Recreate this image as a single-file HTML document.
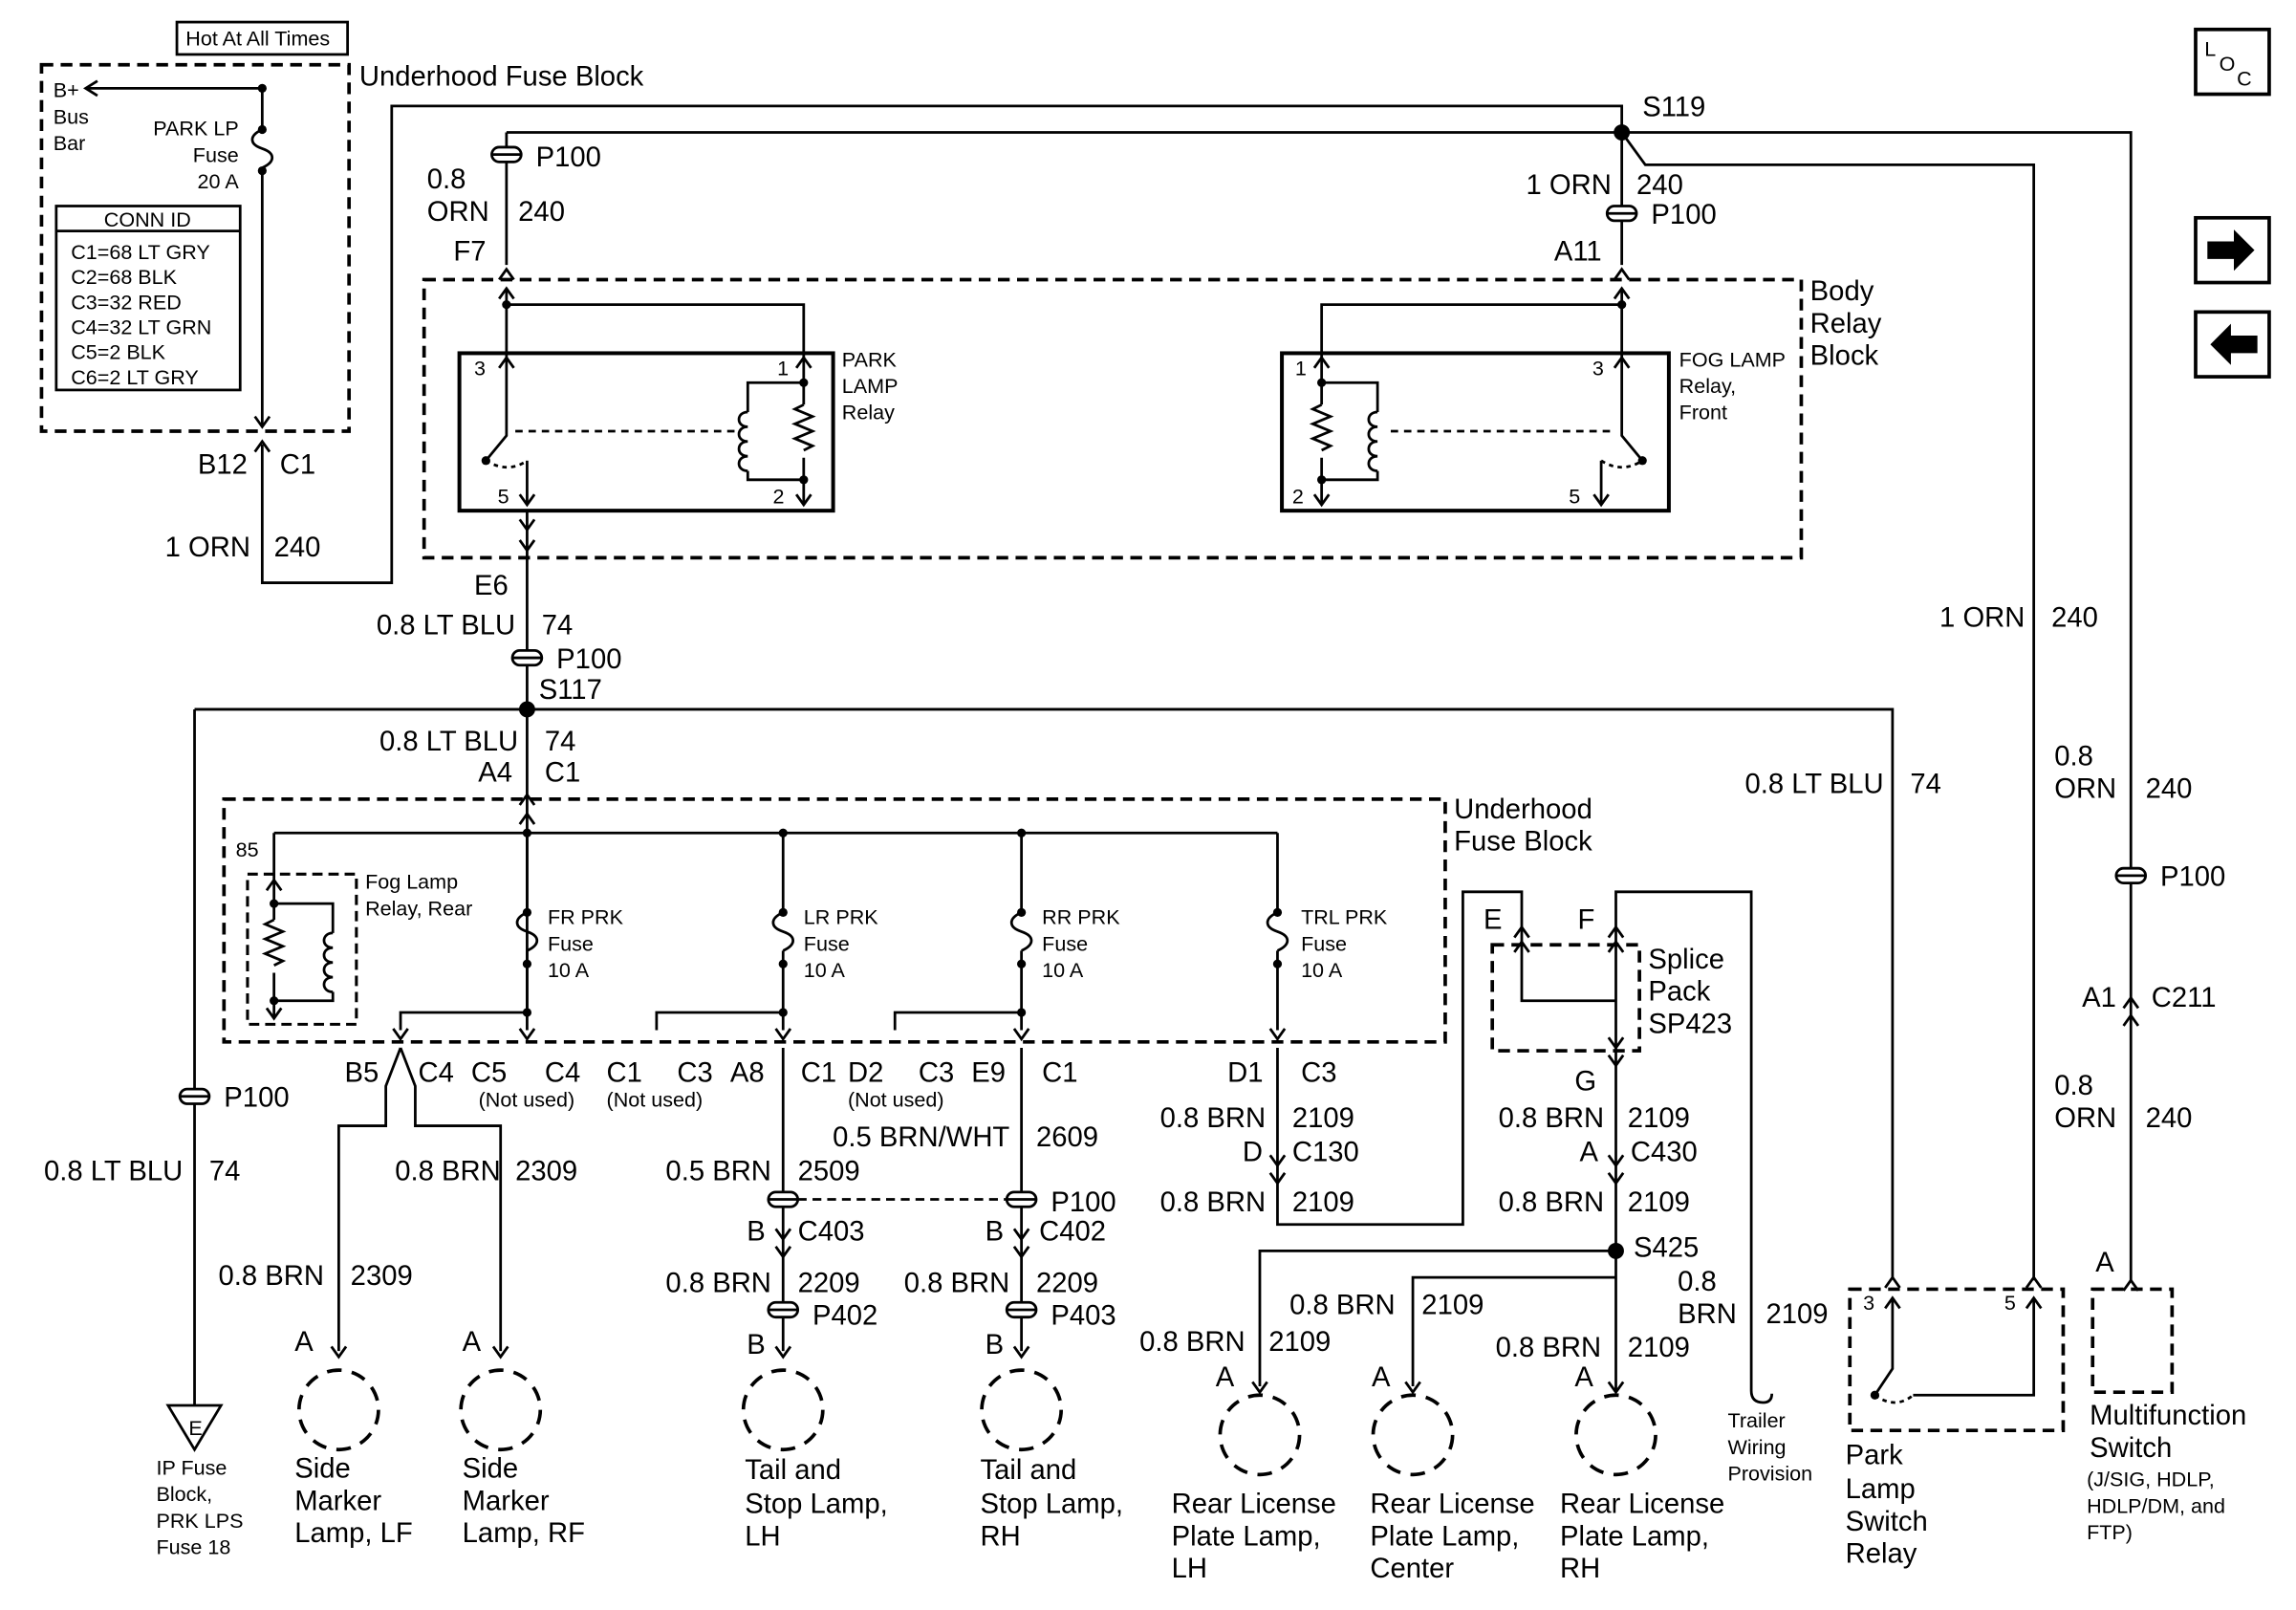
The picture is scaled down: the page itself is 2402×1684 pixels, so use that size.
<!DOCTYPE html>
<html><head><meta charset="utf-8"><style>
html,body{margin:0;padding:0;background:#fff}
svg{display:block}
text{font-family:"Liberation Sans",sans-serif;fill:#000}
.m{font-size:19px}
.s{font-size:14px}
.r{text-anchor:end}
</style></head><body>
<svg width="2402" height="1684" viewBox="0 0 1560 1094" xmlns="http://www.w3.org/2000/svg">
<defs>
<path id="cd" d="M-5,-7 L0,0 L5,-7" fill="none" stroke="#000" stroke-width="1.8"/>
<path id="cu" d="M-5,7 L0,0 L5,7" fill="none" stroke="#000" stroke-width="1.8"/>
<g id="cap"><rect x="-10" y="-5" width="20" height="10" rx="5" fill="#fff" stroke="#000" stroke-width="1.8"/><line x1="-10" y1="0" x2="10" y2="0" stroke="#000" stroke-width="1.8"/></g>
<path id="fuse" d="M0,0 C-9,4 -9,10 0,13 C9,16 9,22 0,26" fill="none" stroke="#000" stroke-width="1.8"/>
<path id="coil" d="M0,0 c-8,0 -8,10 0,10 c-8,0 -8,10 0,10 c-8,0 -8,10 0,10 c-8,0 -8,10 0,10" fill="none" stroke="#000" stroke-width="1.8"/>
<path id="res" d="M0,0 l-6,3 l12,5 l-12,5 l12,5 l-12,5 l12,5 l-6,3" fill="none" stroke="#000" stroke-width="1.8"/>
</defs>
<g fill="none" stroke="#000" stroke-width="1.8">
<rect x="120" y="15" width="116" height="22"/>
<rect x="28" y="44" width="209" height="249" stroke-dasharray="8,5" stroke-width="2.4"/>
<path d="M58,60 H178 V88"/><path d="M66,55 L58,60 L66,65"/>
<use href="#fuse" x="178" y="88"/>
<path d="M178,115 V290"/><use href="#cd" x="178" y="290"/>
<rect x="38" y="140" width="125" height="125"/><line x1="38" y1="157" x2="163" y2="157"/>
<use href="#cu" x="178" y="300"/>
<path d="M178,302 V396 H266 V72 H1102 V90"/>
<path d="M344,90 H1448 V870"/>
<path d="M1102,90 L1118,112 H1382 V870"/>
<path d="M344,90 V180"/>
<use href="#cu" x="344" y="183"/><use href="#cu" x="344" y="196"/>
<path d="M1102,90 V180"/>
<use href="#cu" x="1102" y="183"/><use href="#cu" x="1102" y="196"/>
<rect x="288" y="190" width="936" height="189" stroke-dasharray="8,5" stroke-width="2.4"/>
<rect x="312" y="240" width="254" height="107" stroke-width="2.6"/>
<rect x="871" y="240" width="263" height="107" stroke-width="2.6"/>
<path d="M344,196 V243 M344,207 H546 V243"/>
<use href="#cu" x="344" y="243"/><use href="#cu" x="546" y="243"/>
<path d="M344,243 V296 L330,313"/>
<path d="M358,313 V343"/><use href="#cd" x="358" y="343"/>
<path d="M330,313 Q345,322 358,313" stroke-dasharray="3,3"/>
<path d="M350,293 H500" stroke-dasharray="5,4"/>
<path d="M546,243 V260 H508 V280 M508,320 V326 H546 V343 M546,260 V275 M546,311 V326"/>
<use href="#coil" x="508" y="280"/><use href="#res" x="546" y="275"/>
<use href="#cd" x="546" y="343"/>
<path d="M358,347 V700"/>
<use href="#cd" x="358" y="360"/><use href="#cd" x="358" y="374"/>
<path d="M1102,196 V243 M1102,207 H898 V243"/>
<use href="#cu" x="1102" y="243"/><use href="#cu" x="898" y="243"/>
<path d="M1102,243 V296 L1116,313"/>
<path d="M1088,313 V343"/><use href="#cd" x="1088" y="343"/>
<path d="M1088,313 Q1102,322 1116,313" stroke-dasharray="3,3"/>
<path d="M945,293 H1095" stroke-dasharray="5,4"/>
<path d="M898,243 V260 H936 V280 M936,320 V326 H898 V343 M898,260 V275 M898,311 V326"/>
<use href="#coil" x="936" y="280"/><use href="#res" x="898" y="275"/>
<use href="#cd" x="898" y="343"/>
<use href="#cap" x="344" y="105"/><use href="#cap" x="1102" y="145"/>
<use href="#cap" x="358" y="447"/>
<path d="M132,482 H1286 V868 M132,482 V955"/>
<use href="#cap" x="132" y="745"/>
<path d="M114,955 H150 L132,985 Z"/>
<use href="#cu" x="358" y="540"/><use href="#cu" x="358" y="553"/>
<rect x="152" y="543" width="830" height="165" stroke-dasharray="8,5" stroke-width="2.4"/>
<path d="M186,566 H868"/>
<path d="M186,566 V598"/><use href="#cu" x="186" y="598"/>
<rect x="168" y="594" width="74" height="102" stroke-dasharray="7,4" stroke-width="2"/>
<path d="M186,598 V614 H226 V634 M226,674 V680 H186 V692 M186,614 V625 M186,661 V680"/>
<use href="#coil" x="226" y="634"/><use href="#res" x="186" y="625"/>
<use href="#cd" x="186" y="692"/>
<path d="M358,566 V620 M358,646 V688 H272 V700"/><use href="#fuse" x="358" y="620"/>
<path d="M532,566 V620 M532,646 V700 M532,688 H446 V700"/><use href="#fuse" x="532" y="620"/>
<path d="M694,566 V620 M694,646 V700 M694,688 H608 V700"/><use href="#fuse" x="694" y="620"/>
<path d="M868,566 V620 M868,646 V700"/><use href="#fuse" x="868" y="620"/>
<use href="#cd" x="272" y="706"/><use href="#cd" x="532" y="706"/><use href="#cd" x="694" y="706"/><use href="#cd" x="868" y="706"/>
<use href="#cd" x="358" y="706"/>
<path d="M272,712 L262,738 V765 H230 V918"/><path d="M272,712 L282,738 V765 H340 V918"/>
<use href="#cd" x="230" y="922"/><use href="#cd" x="340" y="922"/>
<circle cx="230" cy="958" r="27" stroke-dasharray="10,7" stroke-width="2.4"/>
<circle cx="340" cy="958" r="27" stroke-dasharray="10,7" stroke-width="2.4"/>
<path d="M532,712 V918 M694,712 V918"/>
<path d="M532,815 H694" stroke-dasharray="6,4"/>
<use href="#cap" x="532" y="815"/><use href="#cap" x="694" y="815"/>
<use href="#cd" x="532" y="842"/><use href="#cd" x="532" y="854"/>
<use href="#cd" x="694" y="842"/><use href="#cd" x="694" y="854"/>
<use href="#cap" x="532" y="890"/><use href="#cap" x="694" y="890"/>
<use href="#cd" x="532" y="922"/><use href="#cd" x="694" y="922"/>
<circle cx="532" cy="958" r="27" stroke-dasharray="10,7" stroke-width="2.4"/>
<circle cx="694" cy="958" r="27" stroke-dasharray="10,7" stroke-width="2.4"/>
<path d="M868,712 V832 H994 V606 H1034 V640"/>
<use href="#cd" x="868" y="792"/><use href="#cd" x="868" y="804"/>
<path d="M1098,640 V606 H1190 V945 q0,8 8,8 q6,0 6,-6"/>
<use href="#cu" x="1034" y="640"/><use href="#cu" x="1098" y="640"/>
<use href="#cu" x="1034" y="630"/><use href="#cu" x="1098" y="630"/>
<rect x="1014" y="642" width="100" height="72" stroke-dasharray="8,5" stroke-width="2.4"/>
<path d="M1034,640 V680 H1098 M1098,640 V712"/><use href="#cd" x="1098" y="712"/>
<path d="M1098,712 V945"/><use href="#cd" x="1098" y="724"/>
<use href="#cd" x="1098" y="792"/><use href="#cd" x="1098" y="804"/>
<path d="M1098,850 H856 V942 M1098,868 H960 V942"/>
<use href="#cd" x="856" y="946"/><use href="#cd" x="960" y="946"/><use href="#cd" x="1098" y="946"/>
<circle cx="856" cy="975" r="27" stroke-dasharray="10,7" stroke-width="2.4"/>
<circle cx="960" cy="975" r="27" stroke-dasharray="10,7" stroke-width="2.4"/>
<circle cx="1098" cy="975" r="27" stroke-dasharray="10,7" stroke-width="2.4"/>
<use href="#cu" x="1286" y="868"/><use href="#cu" x="1382" y="868"/>
<rect x="1257" y="876" width="145" height="96" stroke-dasharray="8,5" stroke-width="2.4"/>
<use href="#cu" x="1286" y="882"/><use href="#cu" x="1382" y="882"/>
<path d="M1286,882 V930 L1274,948 M1382,882 V948 H1300"/>
<path d="M1274,948 Q1288,958 1300,948" stroke-dasharray="3,3"/>
<use href="#cap" x="1448" y="595"/>
<use href="#cu" x="1448" y="678"/><use href="#cu" x="1448" y="690"/>
<use href="#cu" x="1448" y="870"/>
<rect x="1422" y="876" width="54" height="70" stroke-dasharray="8,5" stroke-width="2.4"/>
<rect x="1492" y="20" width="50" height="44" stroke-width="2.4"/>
<rect x="1492" y="148" width="50" height="44" stroke-width="2.4"/>
<rect x="1492" y="212" width="50" height="44" stroke-width="2.4"/>
</g>
<g fill="#000">
<circle cx="178" cy="60" r="3"/><circle cx="178" cy="88" r="3"/><circle cx="178" cy="116" r="3"/>
<circle cx="1102" cy="90" r="5.5"/><circle cx="358" cy="482" r="5.5"/><circle cx="1098" cy="850" r="5.5"/>
<circle cx="546" cy="260" r="3"/><circle cx="546" cy="326" r="3"/><circle cx="898" cy="260" r="3"/><circle cx="898" cy="326" r="3"/>
<circle cx="330" cy="313" r="3"/><circle cx="1116" cy="313" r="3"/><circle cx="1274" cy="948" r="3"/>
<circle cx="186" cy="614" r="3"/><circle cx="186" cy="680" r="3"/>
<circle cx="358" cy="566" r="3"/><circle cx="532" cy="566" r="3"/><circle cx="694" cy="566" r="3"/>
<circle cx="358" cy="620" r="3"/><circle cx="358" cy="655" r="3"/><circle cx="532" cy="620" r="3"/><circle cx="532" cy="655" r="3"/>
<circle cx="694" cy="620" r="3"/><circle cx="694" cy="655" r="3"/><circle cx="868" cy="620" r="3"/><circle cx="868" cy="655" r="3"/>
<circle cx="358" cy="688" r="3"/><circle cx="532" cy="688" r="3"/><circle cx="694" cy="688" r="3"/>
<circle cx="344" cy="207" r="3"/><circle cx="1102" cy="207" r="3"/>
<path d="M1500,164 h18 v-8 l14,14 l-14,14 v-8 h-18z"/>
<path d="M1534,228 h-18 v-8 l-14,14 l14,14 v-8 h18z"/>
</g>
<text x="126" y="31" class="s">Hot At All Times</text>
<text x="244" y="58" class="m">Underhood Fuse Block</text>
<text x="36" y="66" class="s">B+</text><text x="36" y="84" class="s">Bus</text><text x="36" y="102" class="s">Bar</text>
<text x="162" y="92" class="s r">PARK LP</text><text x="162" y="110" class="s r">Fuse</text><text x="162" y="128" class="s r">20 A</text>
<text x="100" y="154" class="s" text-anchor="middle">CONN ID</text>
<text x="48" y="176" class="s">C1=68 LT GRY</text><text x="48" y="193" class="s">C2=68 BLK</text><text x="48" y="210" class="s">C3=32 RED</text>
<text x="48" y="227" class="s">C4=32 LT GRN</text><text x="48" y="244" class="s">C5=2 BLK</text><text x="48" y="261" class="s">C6=2 LT GRY</text>
<text x="168" y="322" class="m r">B12</text><text x="190" y="322" class="m">C1</text>
<text x="170" y="378" class="m r">1 ORN</text><text x="186" y="378" class="m">240</text>
<text x="364" y="113" class="m">P100</text>
<text x="290" y="128" class="m">0.8</text><text x="290" y="150" class="m">ORN</text><text x="352" y="150" class="m">240</text>
<text x="308" y="177" class="m">F7</text>
<text x="1095" y="132" class="m r">1 ORN</text><text x="1112" y="132" class="m">240</text>
<text x="1122" y="152" class="m">P100</text><text x="1056" y="177" class="m">A11</text>
<text x="1116" y="79" class="m">S119</text>
<text x="1230" y="204" class="m">Body</text><text x="1230" y="226" class="m">Relay</text><text x="1230" y="248" class="m">Block</text>
<text x="572" y="249" class="s">PARK</text><text x="572" y="267" class="s">LAMP</text><text x="572" y="285" class="s">Relay</text>
<text x="1141" y="249" class="s">FOG LAMP</text><text x="1141" y="267" class="s">Relay,</text><text x="1141" y="285" class="s">Front</text>
<text x="322" y="255" class="s">3</text><text x="528" y="255" class="s">1</text><text x="338" y="342" class="s">5</text><text x="525" y="342" class="s">2</text>
<text x="880" y="255" class="s">1</text><text x="1082" y="255" class="s">3</text><text x="878" y="342" class="s">2</text><text x="1066" y="342" class="s">5</text>
<text x="322" y="404" class="m">E6</text>
<text x="350" y="431" class="m r">0.8 LT BLU</text><text x="368" y="431" class="m">74</text>
<text x="378" y="454" class="m">P100</text><text x="366" y="475" class="m">S117</text>
<text x="352" y="510" class="m r">0.8 LT BLU</text><text x="370" y="510" class="m">74</text>
<text x="348" y="531" class="m r">A4</text><text x="370" y="531" class="m">C1</text>
<text x="988" y="556" class="m">Underhood</text><text x="988" y="578" class="m">Fuse Block</text>
<text x="160" y="582" class="s">85</text>
<text x="248" y="604" class="s">Fog Lamp</text><text x="248" y="622" class="s">Relay, Rear</text>
<text x="372" y="628" class="s">FR PRK</text><text x="372" y="646" class="s">Fuse</text><text x="372" y="664" class="s">10 A</text>
<text x="546" y="628" class="s">LR PRK</text><text x="546" y="646" class="s">Fuse</text><text x="546" y="664" class="s">10 A</text>
<text x="708" y="628" class="s">RR PRK</text><text x="708" y="646" class="s">Fuse</text><text x="708" y="664" class="s">10 A</text>
<text x="884" y="628" class="s">TRL PRK</text><text x="884" y="646" class="s">Fuse</text><text x="884" y="664" class="s">10 A</text>
<text x="234" y="735" class="m">B5</text><text x="284" y="735" class="m">C4</text><text x="320" y="735" class="m">C5</text><text x="370" y="735" class="m">C4</text>
<text x="412" y="735" class="m">C1</text><text x="460" y="735" class="m">C3</text><text x="496" y="735" class="m">A8</text><text x="544" y="735" class="m">C1</text>
<text x="576" y="735" class="m">D2</text><text x="624" y="735" class="m">C3</text><text x="660" y="735" class="m">E9</text><text x="708" y="735" class="m">C1</text>
<text x="834" y="735" class="m">D1</text><text x="884" y="735" class="m">C3</text>
<text x="325" y="752" class="s">(Not used)</text><text x="412" y="752" class="s">(Not used)</text><text x="576" y="752" class="s">(Not used)</text>
<text x="152" y="752" class="m">P100</text>
<text x="124" y="802" class="m r">0.8 LT BLU</text><text x="142" y="802" class="m">74</text>
<text x="128" y="975" class="s">E</text>
<text x="106" y="1002" class="s">IP Fuse</text><text x="106" y="1020" class="s">Block,</text><text x="106" y="1038" class="s">PRK LPS</text><text x="106" y="1056" class="s">Fuse 18</text>
<text x="340" y="802" class="m r">0.8 BRN</text><text x="350" y="802" class="m">2309</text>
<text x="220" y="873" class="m r">0.8 BRN</text><text x="238" y="873" class="m">2309</text>
<text x="200" y="918" class="m">A</text><text x="314" y="918" class="m">A</text>
<text x="200" y="1004" class="m">Side</text><text x="200" y="1026" class="m">Marker</text><text x="200" y="1048" class="m">Lamp, LF</text>
<text x="314" y="1004" class="m">Side</text><text x="314" y="1026" class="m">Marker</text><text x="314" y="1048" class="m">Lamp, RF</text>
<text x="524" y="802" class="m r">0.5 BRN</text><text x="542" y="802" class="m">2509</text>
<text x="686" y="779" class="m r">0.5 BRN/WHT</text><text x="704" y="779" class="m">2609</text>
<text x="714" y="823" class="m">P100</text>
<text x="520" y="843" class="m r">B</text><text x="542" y="843" class="m">C403</text>
<text x="682" y="843" class="m r">B</text><text x="706" y="843" class="m">C402</text>
<text x="524" y="878" class="m r">0.8 BRN</text><text x="542" y="878" class="m">2209</text>
<text x="686" y="878" class="m r">0.8 BRN</text><text x="704" y="878" class="m">2209</text>
<text x="552" y="900" class="m">P402</text><text x="714" y="900" class="m">P403</text>
<text x="520" y="920" class="m r">B</text><text x="682" y="920" class="m r">B</text>
<text x="506" y="1005" class="m">Tail and</text><text x="506" y="1028" class="m">Stop Lamp,</text><text x="506" y="1050" class="m">LH</text>
<text x="666" y="1005" class="m">Tail and</text><text x="666" y="1028" class="m">Stop Lamp,</text><text x="666" y="1050" class="m">RH</text>
<text x="860" y="766" class="m r">0.8 BRN</text><text x="878" y="766" class="m">2109</text>
<text x="858" y="789" class="m r">D</text><text x="878" y="789" class="m">C130</text>
<text x="860" y="823" class="m r">0.8 BRN</text><text x="878" y="823" class="m">2109</text>
<text x="1008" y="631" class="m">E</text><text x="1072" y="631" class="m">F</text>
<text x="1120" y="658" class="m">Splice</text><text x="1120" y="680" class="m">Pack</text><text x="1120" y="702" class="m">SP423</text>
<text x="1070" y="741" class="m">G</text>
<text x="1090" y="766" class="m r">0.8 BRN</text><text x="1106" y="766" class="m">2109</text>
<text x="1086" y="789" class="m r">A</text><text x="1108" y="789" class="m">C430</text>
<text x="1090" y="823" class="m r">0.8 BRN</text><text x="1106" y="823" class="m">2109</text>
<text x="1110" y="854" class="m">S425</text>
<text x="948" y="893" class="m r">0.8 BRN</text><text x="966" y="893" class="m">2109</text>
<text x="846" y="918" class="m r">0.8 BRN</text><text x="862" y="918" class="m">2109</text>
<text x="1088" y="922" class="m r">0.8 BRN</text><text x="1106" y="922" class="m">2109</text>
<text x="1140" y="877" class="m">0.8</text><text x="1140" y="899" class="m">BRN</text><text x="1200" y="899" class="m">2109</text>
<text x="826" y="942" class="m">A</text><text x="932" y="942" class="m">A</text><text x="1070" y="942" class="m">A</text>
<text x="796" y="1028" class="m">Rear License</text><text x="796" y="1050" class="m">Plate Lamp,</text><text x="796" y="1072" class="m">LH</text>
<text x="931" y="1028" class="m">Rear License</text><text x="931" y="1050" class="m">Plate Lamp,</text><text x="931" y="1072" class="m">Center</text>
<text x="1060" y="1028" class="m">Rear License</text><text x="1060" y="1050" class="m">Plate Lamp,</text><text x="1060" y="1072" class="m">RH</text>
<text x="1174" y="970" class="s">Trailer</text><text x="1174" y="988" class="s">Wiring</text><text x="1174" y="1006" class="s">Provision</text>
<text x="1266" y="890" class="s">3</text><text x="1362" y="890" class="s">5</text>
<text x="1254" y="995" class="m">Park</text><text x="1254" y="1018" class="m">Lamp</text><text x="1254" y="1040" class="m">Switch</text><text x="1254" y="1062" class="m">Relay</text>
<text x="1280" y="539" class="m r">0.8 LT BLU</text><text x="1298" y="539" class="m">74</text>
<text x="1376" y="426" class="m r">1 ORN</text><text x="1394" y="426" class="m">240</text>
<text x="1396" y="520" class="m">0.8</text><text x="1396" y="542" class="m">ORN</text><text x="1458" y="542" class="m">240</text>
<text x="1468" y="602" class="m">P100</text>
<text x="1438" y="684" class="m r">A1</text><text x="1462" y="684" class="m">C211</text>
<text x="1396" y="744" class="m">0.8</text><text x="1396" y="766" class="m">ORN</text><text x="1458" y="766" class="m">240</text>
<text x="1424" y="864" class="m">A</text>
<text x="1420" y="968" class="m">Multifunction</text><text x="1420" y="990" class="m">Switch</text>
<text x="1418" y="1010" class="s">(J/SIG, HDLP,</text><text x="1418" y="1028" class="s">HDLP/DM, and</text><text x="1418" y="1046" class="s">FTP)</text>
<text x="1498" y="38" class="s">L</text><text x="1508" y="48" class="s">O</text><text x="1520" y="58" class="s">C</text>
</svg>
</body></html>
